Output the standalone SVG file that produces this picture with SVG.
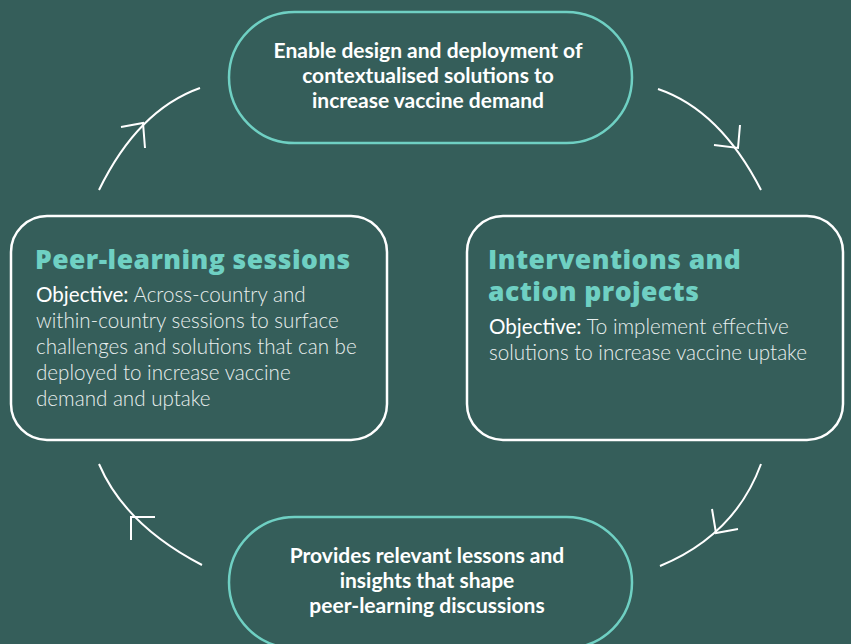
<svg xmlns="http://www.w3.org/2000/svg" width="851" height="644" viewBox="0 0 851 644">
  <style>
    .pill { fill: none; stroke: #6fd0c3; stroke-width: 2.5; }
    .box { fill: none; stroke: #ffffff; stroke-width: 2.5; }
    .link { fill: none; stroke: #ffffff; stroke-width: 2; stroke-linecap: butt; }
    .pill-text { font-family: Lato, "Liberation Sans", sans-serif; font-weight: 700; font-size: 21px; fill: #ffffff; text-anchor: middle; }
    .title { font-family: "Open Sans", "Liberation Sans", sans-serif; font-weight: 800; font-size: 26.5px; letter-spacing: 0.45px; fill: #6fd0c3; }
    .body { font-family: Lato, "Liberation Sans", sans-serif; font-weight: 300; font-size: 20.6px; fill: #e9efee; }
    .lead { font-weight: 400; fill: #ffffff; }
  </style>
  <rect width="851" height="644" fill="#355e5a"/>

  <g id="connectors">
    <path class="link" d="M99,190 Q138,110 200,88"/>
    <polyline class="link" points="121,127 143,123 145,148"/>
    <path class="link" d="M658,89 Q720,110 761,190"/>
    <polyline class="link" points="740,125 738,148 714,145"/>
    <path class="link" d="M761,464 Q735,535 660,566"/>
    <polyline class="link" points="712,509 716,533 738,529"/>
    <path class="link" d="M99,464 Q125,525 202,565"/>
    <polyline class="link" points="155,517 131,517 131,540"/>
  </g>

  <g id="goal">
    <rect class="pill" x="229" y="12" width="403" height="131" rx="65.5"/>
    <text class="pill-text" x="428" y="58">Enable design and deployment of</text>
    <text class="pill-text" x="428" y="83">contextualised solutions to</text>
    <text class="pill-text" x="428" y="108">increase vaccine demand</text>
  </g>

  <g id="peer-learning">
    <rect class="box" x="11" y="216" width="376" height="224" rx="36"/>
    <text class="title" x="35" y="269">Peer-learning sessions</text>
    <text class="body" x="36" y="302"><tspan class="lead">Objective:</tspan> Across-country and</text>
    <text class="body" x="36" y="328">within-country sessions to surface</text>
    <text class="body" x="36" y="354">challenges and solutions that can be</text>
    <text class="body" x="36" y="380">deployed to increase vaccine</text>
    <text class="body" x="36" y="406">demand and uptake</text>
  </g>

  <g id="interventions">
    <rect class="box" x="467" y="216" width="376" height="224" rx="36"/>
    <text class="title" x="488" y="269">Interventions and</text>
    <text class="title" x="488" y="301">action projects</text>
    <text class="body" x="489" y="334"><tspan class="lead">Objective:</tspan> To implement effective</text>
    <text class="body" x="489" y="360">solutions to increase vaccine uptake</text>
  </g>

  <g id="lessons">
    <rect class="pill" x="229" y="517" width="403" height="131" rx="65.5"/>
    <text class="pill-text" x="427" y="563">Provides relevant lessons and</text>
    <text class="pill-text" x="427" y="588">insights that shape</text>
    <text class="pill-text" x="427" y="613">peer-learning discussions</text>
  </g>
</svg>
